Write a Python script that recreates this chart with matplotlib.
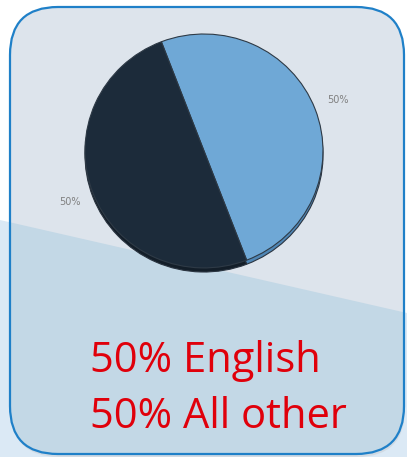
import matplotlib
matplotlib.use("Agg")
import matplotlib.pyplot as plt
from matplotlib.patches import FancyBboxPatch, Polygon

# Data
categories = ["English", "All other"]
shares = [50, 50]
slice_colors = ["#6fa8d6", "#1c2b3a"]
depth_colors = ["#4f86b5", "#131e29"]
caption_lines = ["50% English", "50% All other"]

W, H = 407, 457
fig = plt.figure(figsize=(W / 100, H / 100), dpi=100)
fig.patch.set_facecolor("white")

bg = fig.add_axes([0, 0, 1, 1])
bg.set_xlim(0, W)
bg.set_ylim(H, 0)
bg.axis("off")

# light diagonal band outside the box
bg.add_patch(Polygon([(0, 220), (W, 313), (W, H), (0, H)], closed=True,
                     facecolor="#dbe9f5", edgecolor="none", zorder=0))

# shadow of the box
shadow = FancyBboxPatch((11, 9), 394, 448, boxstyle="round,pad=0,rounding_size=48",
                        facecolor="#c8ccd2", edgecolor="none", alpha=0.5, zorder=1)
bg.add_patch(shadow)

box = FancyBboxPatch((10, 7), 394, 447, boxstyle="round,pad=0,rounding_size=48",
                     facecolor="#dde4ec", edgecolor="none", zorder=2)
bg.add_patch(box)

lower = Polygon([(0, 220), (W, 313), (W, H), (0, H)], closed=True,
                facecolor="#c3d8e6", edgecolor="none", zorder=3)
bg.add_patch(lower)
lower.set_clip_path(box)

border = FancyBboxPatch((10, 7), 394, 447, boxstyle="round,pad=0,rounding_size=48",
                        facecolor="none", edgecolor="#1f80c8", linewidth=1.6, zorder=10)
bg.add_patch(border)

# caption
for i, line in enumerate(caption_lines):
    bg.text(90, 372 + i * 56, line, color="#e0000b", fontsize=30,
            family="Open Sans", va="baseline", ha="left", zorder=11)

# pie
cx, cy, r = 204, 149, 119
pax = fig.add_axes([(cx - r) / W, 1 - (cy + r + 4) / H, 2 * r / W, 2 * r / H])
pax.axis("off")
pax.patch.set_alpha(0)

# depth layer
pax.pie(shares, colors=depth_colors, startangle=111, counterclock=False, radius=1,
        center=(0, -0.035), wedgeprops=dict(edgecolor="#2a3440", linewidth=0.8))
wedges, texts, autotexts = pax.pie(
    shares, colors=slice_colors, startangle=111, counterclock=False, radius=1,
    autopct="%d%%", pctdistance=1.21,
    wedgeprops=dict(edgecolor="#2e3a46", linewidth=0.8),
    textprops=dict(color="#808080", fontsize=7))
pax.set_xlim(-1, 1)
pax.set_ylim(-1.035, 1)
pax.set_aspect("auto")

fig.savefig("out.png", dpi=100)
